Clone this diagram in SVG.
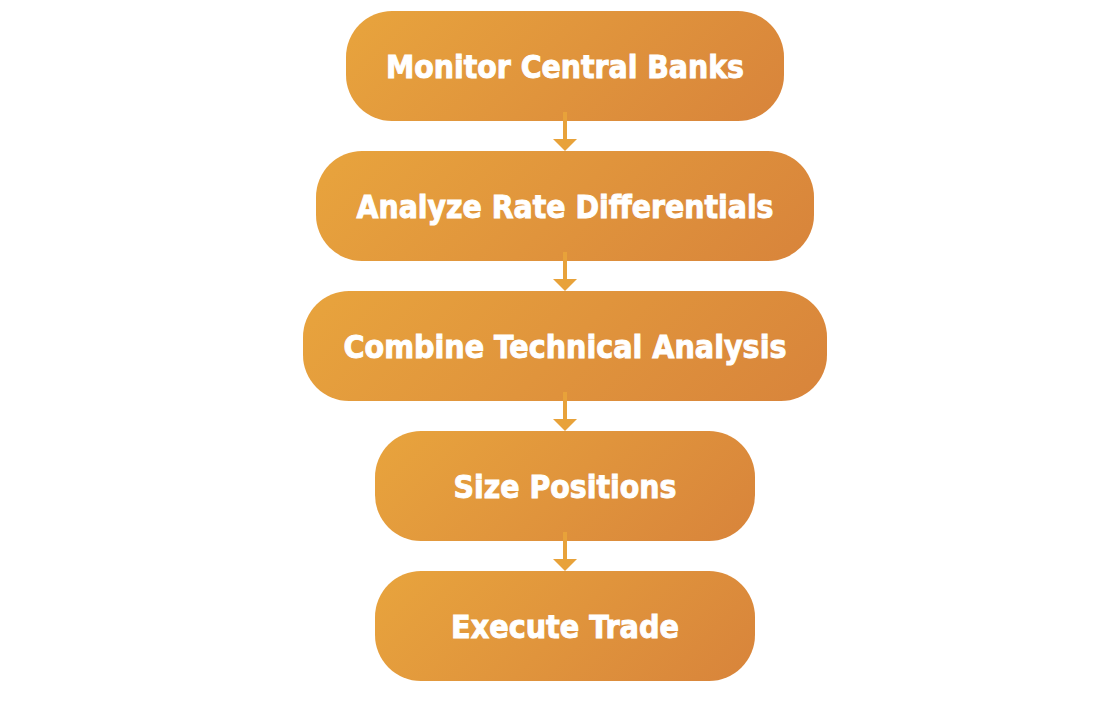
<svg xmlns="http://www.w3.org/2000/svg" width="1112" height="705" viewBox="0 0 1112 705">
<defs>
<linearGradient id="g1" gradientUnits="userSpaceOnUse" x1="428" y1="-71" x2="702" y2="203"><stop offset="0" stop-color="#E8A43D"/><stop offset="1" stop-color="#D8843B"/></linearGradient>
<linearGradient id="g2" gradientUnits="userSpaceOnUse" x1="413" y1="54" x2="717" y2="358"><stop offset="0" stop-color="#E8A43D"/><stop offset="1" stop-color="#D8843B"/></linearGradient>
<linearGradient id="g3" gradientUnits="userSpaceOnUse" x1="406.5" y1="187.5" x2="723.5" y2="504.5"><stop offset="0" stop-color="#E8A43D"/><stop offset="1" stop-color="#D8843B"/></linearGradient>
<linearGradient id="g4" gradientUnits="userSpaceOnUse" x1="442.5" y1="363.5" x2="687.5" y2="608.5"><stop offset="0" stop-color="#E8A43D"/><stop offset="1" stop-color="#D8843B"/></linearGradient>
<linearGradient id="g5" gradientUnits="userSpaceOnUse" x1="442.5" y1="503.5" x2="687.5" y2="748.5"><stop offset="0" stop-color="#E8A43D"/><stop offset="1" stop-color="#D8843B"/></linearGradient>
<style>
.t{fill:#fff;stroke:#fff;stroke-width:0.9;font-family:"DejaVu Sans Condensed","DejaVu Sans",Verdana,sans-serif;font-weight:bold;font-size:32px;text-anchor:middle}
.c{stroke:#E8A23A;stroke-width:4;fill:none}
.h{fill:#E8A23A}
</style>
</defs>
<rect width="1112" height="705" fill="#fff"/>
<g id="n1"><rect fill="url(#g1)" x="346" y="11" width="438" height="110" rx="46"/><text class="t" x="565" y="77.5" textLength="358" lengthAdjust="spacingAndGlyphs">Monitor Central Banks</text></g>
<g id="n2"><rect fill="url(#g2)" x="316" y="151" width="498" height="110" rx="46"/><text class="t" x="565" y="217.5" textLength="417" lengthAdjust="spacingAndGlyphs">Analyze Rate Differentials</text></g>
<g id="n3"><rect fill="url(#g3)" x="303" y="291" width="524" height="110" rx="46"/><text class="t" x="565" y="357.5" textLength="443" lengthAdjust="spacingAndGlyphs">Combine Technical Analysis</text></g>
<g id="n4"><rect fill="url(#g4)" x="375" y="431" width="380" height="110" rx="46"/><text class="t" x="565" y="497.5" textLength="223" lengthAdjust="spacingAndGlyphs">Size Positions</text></g>
<g id="n5"><rect fill="url(#g5)" x="375" y="571" width="380" height="110" rx="46"/><text class="t" x="565" y="637.5" textLength="228" lengthAdjust="spacingAndGlyphs">Execute Trade</text></g>
<g id="connectors">
<line class="c" x1="565" y1="112" x2="565" y2="140"/><path class="h" d="M553,139 L577,139 L565,151 Z"/>
<line class="c" x1="565" y1="252" x2="565" y2="280"/><path class="h" d="M553,279 L577,279 L565,291 Z"/>
<line class="c" x1="565" y1="392" x2="565" y2="420"/><path class="h" d="M553,419 L577,419 L565,431 Z"/>
<line class="c" x1="565" y1="532" x2="565" y2="560"/><path class="h" d="M553,559 L577,559 L565,571 Z"/>
</g>
</svg>
